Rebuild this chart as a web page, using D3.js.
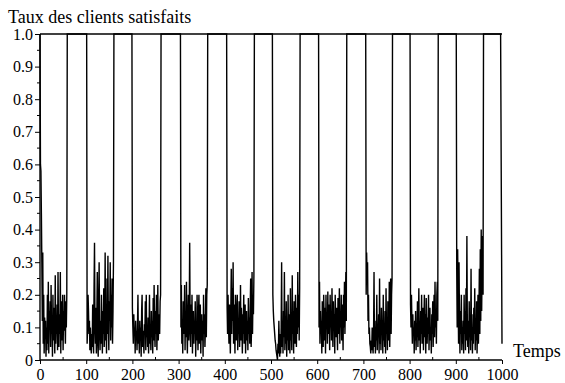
<!DOCTYPE html>
<html>
  <head>
    <script src="https://cdn.jsdelivr.net/npm/d3@7/dist/d3.min.js"></script>
    <style>
      body { margin: 0; background: #fff; }
    </style>
  </head>
  <body>
    <svg id="chart" width="565" height="383"></svg>
    <script>
    // start time of each burst of low satisfaction; between bursts the rate sits at 1.0
    var burstStarts = [1, 102, 200, 305, 405, 504, 604, 706, 802, 902];

    var burst0 = [0.6,0.58,0.45,0.3,0.12,0.33,0.05,0.2,0.02,0.13,
      0.08,0.12,0.01,0.1,0.03,0.2,0.05,0.24,0.02,0.15,
      0.1,0.18,0.04,0.23,0.08,0.12,0.01,0.2,0.06,0.16,
      0.1,0.02,0.26,0.05,0.12,0.08,0.17,0.03,0.27,0.1,
      0.04,0.14,0.08,0.27,0.02,0.18,0.1,0.06,0.2,0.03,
      0.15,0.09,0.2,0.12,0.05,0.18,0.1,0.2];
    var burst1 = [0.05,0.1,0.2,0.15,0.08,0.12,0.03,0.1,0.05,0.02,
      0.08,0.04,0.17,0.06,0.02,0.22,0.36,0.1,0.05,0.16,
      0.02,0.12,0.27,0.06,0.01,0.18,0.3,0.08,0.03,0.12,
      0.05,0.2,0.1,0.02,0.15,0.08,0.22,0.04,0.1,0.33,
      0.06,0.12,0.02,0.25,0.08,0.32,0.1,0.03,0.18,0.12,
      0.3,0.06,0.2,0.1,0.25,0.05,0.15,0.3];
    var burst2 = [0.16,0.1,0.05,0.14,0.08,0.1,0.02,0.12,0.07,0.09,
      0.03,0.1,0.2,0.05,0.08,0.02,0.12,0.06,0.1,0.01,
      0.15,0.2,0.04,0.09,0.06,0.02,0.11,0.08,0.18,0.03,
      0.2,0.07,0.1,0.04,0.13,0.02,0.09,0.2,0.05,0.1,
      0.03,0.15,0.07,0.12,0.02,0.19,0.06,0.23,0.1,0.04,
      0.15,0.08,0.2,0.03,0.12,0.23,0.06,0.1,0.14,0.08,
      0.18,0.2];
    var burst3 = [0.1,0.23,0.05,0.12,0.02,0.18,0.08,0.1,0.23,0.03,
      0.15,0.07,0.24,0.1,0.02,0.12,0.2,0.06,0.13,0.36,
      0.1,0.04,0.17,0.08,0.2,0.02,0.1,0.15,0.05,0.12,
      0.08,0.18,0.01,0.11,0.06,0.2,0.1,0.03,0.14,0.2,
      0.05,0.09,0.17,0.02,0.1,0.14,0.06,0.12,0.01,0.2,
      0.08,0.14,0.04,0.1,0.22,0.07,0.2,0.23];
    var burst4 = [0.16,0.08,0.2,0.12,0.05,0.17,0.1,0.02,0.15,0.28,
      0.08,0.22,0.12,0.3,0.05,0.17,0.1,0.02,0.2,0.13,
      0.06,0.15,0.2,0.03,0.12,0.08,0.18,0.04,0.1,0.23,
      0.06,0.16,0.11,0.02,0.14,0.08,0.2,0.05,0.12,0.17,
      0.02,0.1,0.15,0.06,0.12,0.03,0.19,0.08,0.13,0.05,
      0.16,0.25,0.04,0.1,0.27,0.08,0.2,0.14,0.26];
    var burst5 = [0.2,0.15,0.12,0.1,0.08,0.06,0.05,0.03,0.02,0.01,
      0.0,0.05,0.02,0.12,0.05,0.01,0.08,0.02,0.1,0.3,
      0.04,0.12,0.02,0.15,0.07,0.27,0.03,0.1,0.05,0.18,
      0.01,0.12,0.06,0.2,0.03,0.09,0.14,0.02,0.22,0.06,
      0.11,0.03,0.26,0.08,0.15,0.02,0.18,0.1,0.05,0.2,
      0.12,0.04,0.16,0.08,0.27,0.1,0.2,0.06,0.22];
    var burst6 = [0.1,0.24,0.05,0.15,0.08,0.12,0.02,0.18,0.1,0.04,
      0.2,0.13,0.06,0.16,0.02,0.2,0.1,0.14,0.05,0.21,
      0.08,0.17,0.12,0.03,0.2,0.1,0.15,0.06,0.22,0.11,
      0.04,0.18,0.09,0.14,0.02,0.2,0.12,0.07,0.16,0.1,
      0.03,0.19,0.08,0.13,0.22,0.05,0.15,0.1,0.2,0.06,
      0.17,0.12,0.03,0.2,0.1,0.24,0.08,0.16,0.27,0.12];
    var burst7 = [0.2,0.33,0.25,0.3,0.12,0.2,0.08,0.1,0.05,0.04,
      0.02,0.06,0.03,0.1,0.05,0.02,0.08,0.27,0.04,0.12,
      0.02,0.1,0.06,0.2,0.03,0.11,0.07,0.14,0.02,0.25,
      0.05,0.1,0.03,0.16,0.08,0.12,0.02,0.2,0.06,0.1,
      0.04,0.15,0.02,0.22,0.08,0.12,0.03,0.18,0.1,0.06,
      0.24,0.04,0.14,0.25,0.08,0.2,0.25];
    var burst8 = [0.17,0.1,0.2,0.12,0.05,0.14,0.08,0.1,0.02,0.12,
      0.06,0.15,0.03,0.1,0.07,0.18,0.04,0.11,0.22,0.06,
      0.12,0.02,0.15,0.08,0.2,0.05,0.1,0.16,0.03,0.12,
      0.2,0.07,0.14,0.02,0.19,0.1,0.05,0.13,0.08,0.2,
      0.03,0.11,0.16,0.06,0.1,0.02,0.14,0.08,0.18,0.04,
      0.12,0.2,0.07,0.24,0.1,0.15,0.05,0.2,0.24,0.12];
    var burst9 = [0.28,0.1,0.34,0.2,0.05,0.3,0.12,0.02,0.15,0.08,
      0.2,0.03,0.1,0.05,0.12,0.02,0.2,0.08,0.15,0.03,
      0.22,0.06,0.38,0.1,0.04,0.12,0.02,0.18,0.07,0.1,
      0.03,0.28,0.06,0.14,0.02,0.1,0.05,0.16,0.08,0.22,
      0.03,0.12,0.06,0.18,0.02,0.1,0.2,0.05,0.13,0.28,
      0.08,0.34,0.12,0.4,0.15,0.3,0.38,0.2];
    var bursts = [burst0, burst1, burst2, burst3, burst4, burst5, burst6, burst7, burst8, burst9];

    var plateauRate = 1.0;
    var endTimes = [997, 1000];
    var endRates = [1.0, 0.05];

    var xTicks = [0, 100, 200, 300, 400, 500, 600, 700, 800, 900, 1000];
    var yTicks = [0, 0.1, 0.2, 0.3, 0.4, 0.5, 0.6, 0.7, 0.8, 0.9, 1.0];

    // assemble the series: burst values, then a jump to 1.0 that holds until the next burst
    var series = [{t: 0, v: plateauRate}];
    bursts.forEach(function(b, i){
      var s = burstStarts[i];
      b.forEach(function(v, j){ series.push({t: s + j, v: v}); });
      series.push({t: s + b.length, v: plateauRate});
      if(i < bursts.length - 1) series.push({t: burstStarts[i+1] - 1, v: plateauRate});
    });
    endTimes.forEach(function(t, i){ series.push({t: t, v: endRates[i]}); });

    var serif = '"Liberation Serif"';
    var svg = d3.select("#chart");
    var x = d3.scaleLinear().domain([0, 1000]).range([40, 502]);
    var y = d3.scaleLinear().domain([0, 1]).range([360, 34]);

    var yAxis = d3.axisLeft(y)
      .tickValues(yTicks)
      .tickSize(5)
      .tickPadding(2)
      .tickFormat(function(d){ return d === 0 ? "0" : d.toFixed(1); });
    var gy = svg.append("g").attr("transform", "translate(40,0)").call(yAxis);
    gy.select(".domain").remove();
    gy.selectAll("text").style("font-family", serif).style("font-size", "16px");

    var xAxis = d3.axisBottom(x)
      .tickValues(xTicks)
      .tickSize(4)
      .tickPadding(5)
      .tickFormat(d3.format("d"));
    var gx = svg.append("g").attr("transform", "translate(0,360)").call(xAxis);
    gx.select(".domain").remove();
    gx.selectAll("text").style("font-family", serif).style("font-size", "16px");

    // minor ticks
    svg.append("g").selectAll("line")
      .data(d3.range(0.05, 1, 0.1))
      .enter().append("line")
      .attr("x1", 37).attr("x2", 40)
      .attr("y1", function(d){ return y(d); }).attr("y2", function(d){ return y(d); })
      .attr("stroke", "#000");
    svg.append("g").selectAll("line")
      .data(d3.range(50, 1000, 100))
      .enter().append("line")
      .attr("x1", function(d){ return x(d); }).attr("x2", function(d){ return x(d); })
      .attr("y1", 360).attr("y2", 357)
      .attr("stroke", "#000");

    // frame: left, bottom and top edges
    svg.append("line").attr("x1", x(0)).attr("x2", x(0)).attr("y1", y(0)).attr("y2", y(1))
      .attr("stroke", "#000").attr("stroke-width", 1.4);
    svg.append("line").attr("x1", x(0)).attr("x2", x(1000)).attr("y1", y(0)).attr("y2", y(0))
      .attr("stroke", "#000").attr("stroke-width", 1.4);
    svg.append("line").attr("x1", x(0)).attr("x2", x(1000)).attr("y1", y(1)).attr("y2", y(1))
      .attr("stroke", "#000").attr("stroke-width", 1.4);

    svg.append("path")
      .datum(series)
      .attr("fill", "none")
      .attr("stroke", "#000")
      .attr("stroke-width", 1.4)
      .attr("d", d3.line().x(function(d){ return x(d.t); }).y(function(d){ return y(d.v); }));

    svg.append("text").attr("x", 8).attr("y", 23)
      .style("font-family", serif).style("font-size", "18px")
      .text("Taux des clients satisfaits");
    svg.append("text").attr("x", 513).attr("y", 357)
      .style("font-family", serif).style("font-size", "18px")
      .text("Temps");
    </script>
  </body>
</html>
